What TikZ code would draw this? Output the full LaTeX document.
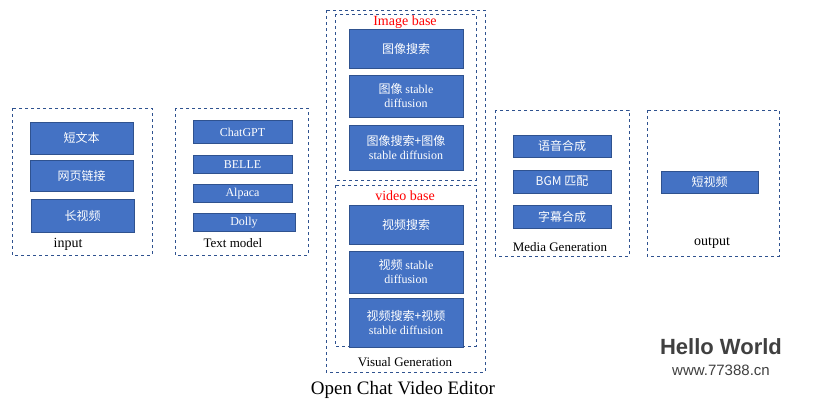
\documentclass[tikz,border=0pt]{standalone}
\usepackage{fontspec}
\setmainfont{Liberation Serif}
\newfontfamily\cjk{Noto Sans CJK SC}
\newfontfamily\sansf{Liberation Sans}
\definecolor{fr}{RGB}{47,82,143}
\definecolor{bf}{RGB}{68,114,196}
\begin{document}
\begin{tikzpicture}[x=1pt,y=-1pt,
  frame/.style={draw=fr,dashed,line width=0.7pt},
  bx/.style={draw=fr,fill=bf,line width=0.7pt},
  bt/.style={text=white,font=\cjk\fontsize{12}{14}\selectfont,align=center},
  et/.style={text=white,font=\fontsize{12}{14}\selectfont},
  sd/.style={font=\rmfamily\fontsize{12}{14}\selectfont},
  lbl/.style={font=\fontsize{14}{16}\selectfont}]
\useasboundingbox (0,0) rectangle (828,400);
\fill[white] (0,0) rectangle (828,400);
% input
\draw[frame] (12,108) rectangle (152,255);
\draw[bx] (30,122) rectangle (133,154); \node[bt] (a1) at (81.5,138) {短文本};
\draw[bx] (30,160) rectangle (133,191); \node[bt] (a2) at (81.5,175.5) {网页链接};
\draw[bx] (31,199) rectangle (134,232); \node[bt] (a3) at (82.5,215.5) {长视频};
\node[lbl] (l1) at (68,244) {input};
% text model
\draw[frame] (175,108) rectangle (308,255);
\draw[bx] (193,120) rectangle (292,143); \node[et] (b1) at (242.5,132) {ChatGPT};
\draw[bx] (193,155) rectangle (292,173); \node[et] (b2) at (242.5,164.5) {BELLE};
\draw[bx] (193,184) rectangle (292,202); \node[et] (b3) at (242.5,193.5) {Alpaca};
\draw[bx] (193,213) rectangle (295,231); \node[et] (b4) at (244,222.5) {Dolly};
\node[lbl,font=\fontsize{13}{15}\selectfont] (l2) at (233,243) {Text model};
% visual
\draw[frame] (326,10) rectangle (485,372);
\draw[frame] (335,14) rectangle (476,180);
\node[lbl,text=red] (t1) at (405,22) {Image base};
\draw[bx] (349,29) rectangle (463,68); \node[bt] (c1) at (406,48.5) {图像搜索};
\draw[bx] (349,75) rectangle (463,117); \node[bt] (c2) at (406,96) {图像 {\rmfamily stable}\\{\rmfamily diffusion}};
\draw[bx] (349,125) rectangle (463,170); \node[bt] (c3) at (406,147.5) {图像搜索+图像\\{\rmfamily stable diffusion}};
\draw[frame] (335,185) rectangle (476,346);
\node[lbl,text=red] (t2) at (405,196) {video base};
\draw[bx] (349,205) rectangle (463,244); \node[bt] (d1) at (406,224.5) {视频搜索};
\draw[bx] (349,251) rectangle (463,293); \node[bt] (d2) at (406,272) {视频 {\rmfamily stable}\\{\rmfamily diffusion}};
\draw[bx] (349,298) rectangle (463,347); \node[bt] (d3) at (406,322.5) {视频搜索+视频\\{\rmfamily stable diffusion}};
\node[lbl,font=\fontsize{13}{15}\selectfont] (l3) at (405,362) {Visual Generation};
% media
\draw[frame] (495,110) rectangle (629,256);
\draw[bx] (513,135) rectangle (611,157); \node[bt] (e1) at (562,146) {语音合成};
\draw[bx] (513,170) rectangle (611,193); \node[bt] (e2) at (562,181.5) {BGM 匹配};
\draw[bx] (513,205) rectangle (611,228); \node[bt] (e3) at (562,216.5) {字幕合成};
\node[lbl,font=\fontsize{13}{15}\selectfont] (l4) at (560,247) {Media Generation};
% output
\draw[frame] (647,110) rectangle (779,256);
\draw[bx] (661,171) rectangle (758,193); \node[bt] (f1) at (709.5,182) {短视频};
\node[lbl] (l5) at (712,243) {output};
% title
\node[font=\fontsize{19}{21}\selectfont] (tt) at (403,390) {Open Chat Video Editor};
% watermark
\node[font=\sansf\bfseries\fontsize{22}{24}\selectfont,text=black!75] (w1) at (721,347) {Hello World};
\node[font=\sansf\fontsize{15}{17}\selectfont,text=black!75] (w2) at (721,370) {www.77388.cn};
\end{tikzpicture}
\end{document}
